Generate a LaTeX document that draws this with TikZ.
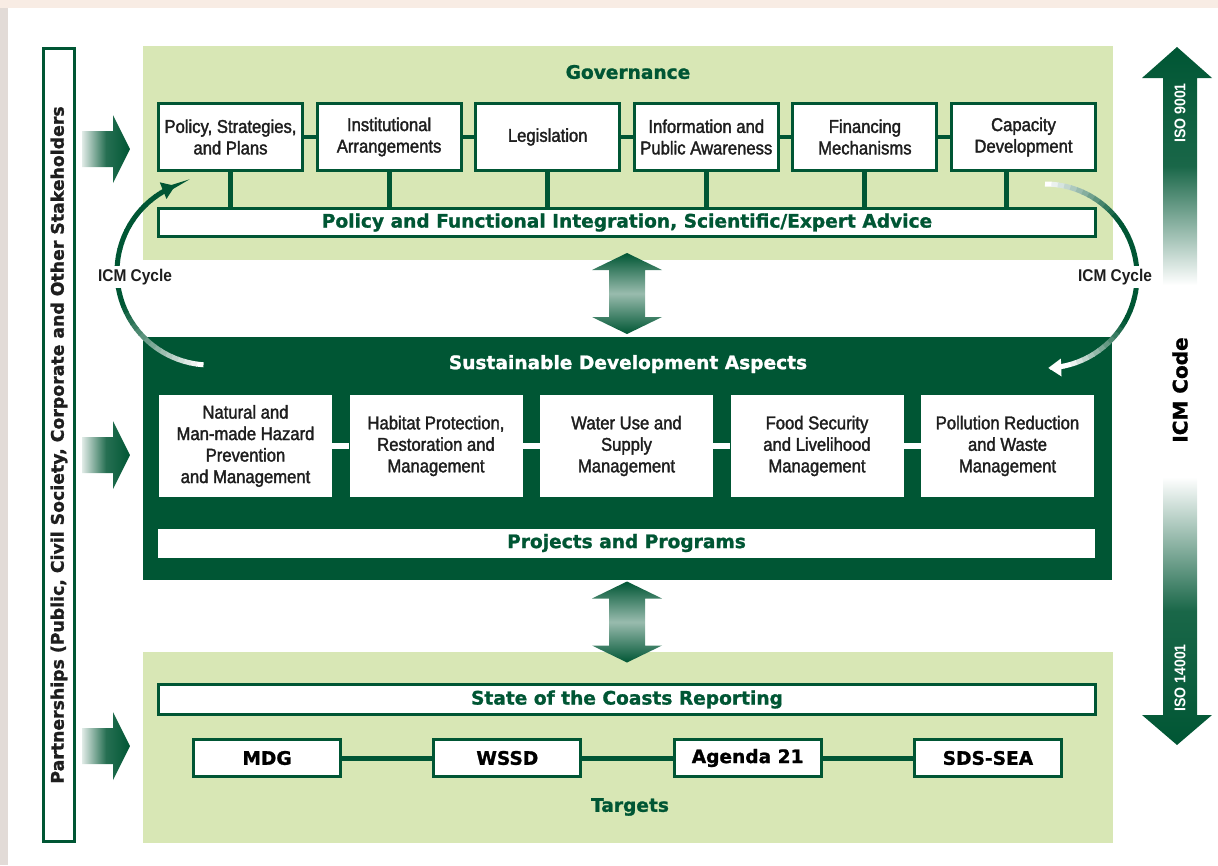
\documentclass[tikz,border=0pt]{standalone}
\usepackage{fontspec}
\setmainfont{Liberation Sans}[FakeStretch=0.91]
\newfontfamily\narrowfont{Liberation Sans}[FakeStretch=0.9, FakeBold=1.8]
\newfontfamily\heavyfont{DejaVu Sans}[FakeBold=1.2]
\usetikzlibrary{matrix,arrows.meta}

\definecolor{dkgreen}{RGB}{0,86,52}
\definecolor{ltgreen}{RGB}{216,231,181}
\definecolor{txtgray}{RGB}{30,30,30}
\definecolor{pinkbg}{RGB}{248,236,228}
\definecolor{greybg}{RGB}{226,219,215}

\newcommand\boxfont{\narrowfont\fontsize{18.5}{21.5}\selectfont}
\newcommand\headfont{\heavyfont\bfseries\fontsize{18.6}{20}\selectfont}

\tikzset{
  panel/.style={fill=ltgreen, inner sep=0pt},
  gbox/.style={draw=dkgreen, line width=3pt, fill=white, minimum width=144pt, minimum height=67pt, inner sep=2pt, align=center, text=txtgray, font=\boxfont},
  sbox/.style={fill=white, minimum width=173pt, minimum height=102pt, inner sep=2pt, align=center, text=txtgray, font=\boxfont},
  tbox/.style={draw=dkgreen, line width=3pt, fill=white, minimum width=147pt, minimum height=37pt, inner sep=2pt, font=\headfont},
  bar/.style={draw=dkgreen, line width=3pt, fill=white, minimum width=937pt, minimum height=28pt, inner sep=0pt, text=dkgreen, font=\headfont},
  heading/.style={text=dkgreen, font=\headfont},
  conn/.style={dkgreen, line width=4pt},
  cyclabel/.style={fill=white, inner sep=3pt, text=txtgray, font=\bfseries\fontsize{17}{20}\selectfont},
  isolabel/.style={rotate=90, text=white, font=\bfseries\fontsize{15.5}{18}\selectfont}
}

\begin{document}
\begin{tikzpicture}[x=1pt, y=-1pt]
  \useasboundingbox (0,0) rectangle (1218,865);
  \fill[pinkbg] (0,0) rectangle (1218,8);
  \fill[greybg] (0,8) rectangle (8,865);

  \node[draw=dkgreen, line width=3pt, fill=white, rotate=90, minimum width=793pt, minimum height=31pt, inner sep=0pt, text=txtgray, font=\heavyfont\bfseries\fontsize{17.3}{20}\selectfont] (part) at (59,445) {Partnerships (Public, Civil Society, Corporate and Other Stakeholders};

  \node[panel, minimum width=970pt, minimum height=214pt] (gov) at (628,153) {};
  \node[fill=dkgreen, inner sep=0pt, minimum width=969pt, minimum height=243pt] (sda) at (627.5,458.5) {};
  \node[panel, minimum width=970pt, minimum height=191pt] (tgt) at (628,747.5) {};

  \node[heading] (govt) at (628,72) {Governance};
  \node[heading, text=white] (sdat) at (628,364) {Sustainable Development Aspects};
  \node[heading] (tgtt) at (630,807) {Targets};

  \matrix (g) [column sep=11.6pt, nodes={anchor=center}] at (627,137)
  {
    \node[gbox] (pol) {Policy, Strategies,\\and Plans}; &
    \node[gbox] (inst) {Institutional\\Arrangements}; &
    \node[gbox] (leg) {Legislation}; &
    \node[gbox] (info) {Information and\\Public Awareness}; &
    \node[gbox] (fin) {Financing\\Mechanisms}; &
    \node[gbox] (cap) {Capacity\\Development}; \\
  };
  \node[bar] (pfi) at (627,222.5) {Policy and Functional Integration, Scientific/Expert Advice};
  \path[conn]
  (pol) edge (inst)
  (inst) edge (leg)
  (leg) edge (info)
  (info) edge (fin)
  (fin) edge (cap)
  ;
  \foreach \b in {pol,inst,leg,info,fin}
    \draw[conn, line width=5pt] (\b.south) -- (\b.south |- pfi.north);
  \draw[conn, line width=5pt] ([xshift=-17pt]cap.south) -- ([xshift=-17pt]cap.south |- pfi.north);

  \matrix (s) [column sep=17.5pt, nodes={anchor=center}] at (626.5,446)
  {
    \node[sbox] (haz) {Natural and\\Man-made Hazard\\Prevention\\and Management}; &
    \node[sbox] (hab) {Habitat Protection,\\Restoration and\\Management}; &
    \node[sbox] (wat) {Water Use and\\Supply\\Management}; &
    \node[sbox] (food) {Food Security\\and Livelihood\\Management}; &
    \node[sbox] (poll) {Pollution Reduction\\and Waste\\Management}; \\
  };
  \path[conn, white, line width=6pt]
  (haz) edge (hab)
  (hab) edge (wat)
  (wat) edge (food)
  (food) edge (poll)
  ;
  \node[bar, draw=none, minimum height=29pt] (pp) at (626.5,543) {Projects and Programs};

  \node[bar, minimum height=30pt] (socr) at (627,699.5) {State of the Coasts Reporting};
  \matrix (t) [column sep=90.3pt, nodes={anchor=center}] at (627.5,758)
  {
    \node[tbox] (mdg) {MDG}; &
    \node[tbox] (wssd) {WSSD}; &
    \node[tbox] (ag21) {Agenda 21}; &
    \node[tbox] (sds) {SDS-SEA}; \\
  };
  \path[conn, line width=5pt]
  (mdg) edge (wssd)
  (wssd) edge (ag21)
  (ag21) edge (sds)
  ;

  \foreach \yc in {149,455,746}
    \shade[left color=dkgreen!12, right color=dkgreen, middle color=dkgreen!85] (82,\yc-18) -- ++(31,0) -- ++(0,-16) -- ++(17,34) -- ++(-17,34) -- ++(0,-16) -- ++(-31,0) -- cycle;
  \foreach \yc in {293.5,622}
    \shade[top color=dkgreen, bottom color=dkgreen, middle color=dkgreen!40] (627,\yc-40.5) -- ++(35,17) -- ++(-17,0) -- ++(0,47) -- ++(17,0) -- ++(-35,17) -- ++(-35,-17) -- ++(17,0) -- ++(0,-47) -- ++(-17,0) -- cycle;

  \shade[top color=dkgreen, bottom color=white, middle color=dkgreen!90] (1177,47) -- (1212,78) -- (1197,78) -- (1197,285) -- (1163,285) -- (1163,78) -- (1142,78) -- cycle;
  \shade[top color=white, bottom color=dkgreen, middle color=dkgreen!90] (1163,477) -- (1197,477) -- (1197,715) -- (1212,715) -- (1177,745) -- (1142,715) -- (1163,715) -- cycle;
  \node[isolabel] (iso9) at (1180,113) {ISO 9001};
  \node[isolabel] (iso14) at (1180,678) {ISO 14001};
  \node[rotate=90, text=black, font=\heavyfont\bfseries\fontsize{20}{22}\selectfont] (icmc) at (1180,390) {ICM Code};

  \coordinate (cycl) at (210,272);
  \coordinate (cycr) at (1045,276);
  \foreach \a [evaluate=\a as \p using {min(100,(\a-94)*1.6)}] in {94,98,...,238}
    \draw[dkgreen!\p!white, line width=5pt] ([shift={(\a:93)}]cycl) arc[start angle=\a, delta angle=4.5, radius=93];
  \draw[dkgreen, line width=5pt, -{Triangle[width=17pt,length=13pt]}] ([shift={(242:93)}]cycl) arc[start angle=242, delta angle=6, radius=93];
  \foreach \a [evaluate=\a as \p using {max(0,min(100,(\a+90)*2,100-(\a-28)*2.2))}] in {-90,-86,...,74}
    \draw[dkgreen!\p!white, line width=5pt] ([shift={(\a:92)}]cycr) arc[start angle=\a, delta angle=4.5, radius=92];
  \draw[white, line width=5pt, -{Triangle[width=17pt,length=13pt]}] ([shift={(78:92)}]cycr) arc[start angle=78, delta angle=10, radius=92];
  \node[cyclabel] (cyclt) at (135,277) {ICM Cycle};
  \node[cyclabel] (cycrt) at (1115,277) {ICM Cycle};
\end{tikzpicture}
\end{document}
